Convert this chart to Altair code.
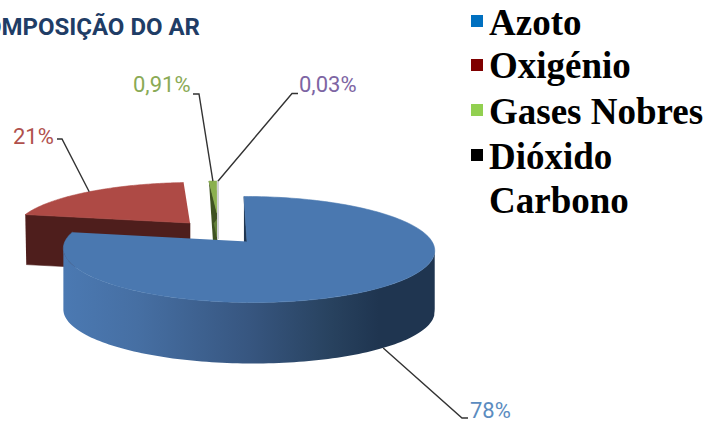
import math
import altair as alt
import pandas as pd

# Air composition, percent of volume
gases = ["Azoto", "Oxigénio", "Gases Nobres", "Dióxido Carbono"]
shares = [78, 21, 0.91, 0.03]
share_labels = ["78%", "21%", "0,91%", "0,03%"]

legend_rows = ["Azoto", "Oxigénio", "Gases Nobres", "Dióxido", "Carbono"]
legend_colors = ["#0070c0", "#7f0000", "#92d050", "#000000"]

top_colors = ["#4a78b0", "#ae4a45", "#8bb04f", "#d0d0d6"]
wall_colors = ["#1f3550", "#4e1e1c", "#3f5222", "#d0d0d6"]
label_colors = ["#5b8cc0", "#b0504c", "#8aaa55", "#7d65a3"]

# Exploded pie layout: apex, scale and shear per slice, in pixels
slices = [
    dict(ax=247.0, ay=241.5, sx=1.0, sy=1.0, shear=0.0, depth=61),
    dict(ax=190.0, ay=223.0, sx=0.95, sy=0.90, shear=6.0, depth=50),
    dict(ax=217.0, ay=213.0, sx=0.87, sy=0.71, shear=3.3, depth=60),
    dict(ax=218.0, ay=239.0, sx=0.90, sy=1.29, shear=3.5, depth=0),
]
# Leader elbow and end of each label line
elbows = [[(462, 418), (468, 418)], [(62, 139), (57, 139)], [(199, 94), (193, 94)], [(292, 93.5), (298, 93.5)]]
label_pos = [(470, 411), (13, 137), (133, 85), (299, 85)]

X = alt.X("x:Q", scale=alt.Scale(domain=[0, 708], range=[0, 708]), axis=None)
Y = alt.Y("y:Q", scale=alt.Scale(domain=[0, 421], range=[0, 421]), axis=None)
Y2 = alt.Y2("y2:Q")


def rim(i, deg):
    """Screen position of the pie edge at a clockwise angle, with perspective foreshortening."""
    s = slices[i]
    u, v = math.sin(math.radians(deg)), math.cos(math.radians(deg))
    w = 1 + 0.151 * v - 0.008 * u
    px = (183.5 * u - 3.5 * v) / w
    py = 51.8 * v / w
    return s["ax"] + s["sx"] * px + s["shear"] * v, s["ay"] - s["sy"] * py


def sweep(i, a, b, n=90):
    return [rim(i, a + (b - a) * k / n) for k in range(n + 1)]


def polygon(points, color, stroke_width=0.6):
    df = pd.DataFrame({"x": [p[0] for p in points], "y": [p[1] for p in points], "n": range(len(points))})
    return alt.Chart(df).mark_line(fill=color, stroke=color, strokeWidth=stroke_width).encode(
        x=X, y=Y, order="n:Q"
    )


# Cumulative angles of every slice
edges = [0.0]
for share in shares:
    edges.append(edges[-1] + share * 3.6)

layers = []

# Oxigénio: radial wall, then the top face
rl = rim(1, edges[1])
d = slices[1]["depth"]
apex = (slices[1]["ax"], slices[1]["ay"])
layers.append(polygon([rl, apex, (apex[0], apex[1] + d), (rl[0] + 1, rl[1] + d)], wall_colors[1]))
layers.append(polygon([apex] + sweep(1, edges[1], edges[2]), top_colors[1]))

# Gases nobres: leaning wall and top face
ra = rim(2, edges[2])
rb = rim(2, edges[3])
d = slices[2]["depth"]
apex = (slices[2]["ax"], slices[2]["ay"])
layers.append(polygon([ra, apex, (apex[0], apex[1] + d), ((ra[0] + apex[0]) / 2, ra[1] + d)], wall_colors[2]))
layers.append(polygon([(apex[0], apex[1] + 6), (apex[0], apex[1] + 24), (apex[0] - 3, apex[1] + 10)], "#63813a"))
layers.append(polygon([apex, ra, rb], top_colors[2]))

# Dióxido de carbono: a sliver just wide enough to see
apex = (slices[3]["ax"], slices[3]["ay"])
layers.append(polygon([apex] + sweep(3, edges[3], edges[4], 4), top_colors[3], 2))

# Azoto: inner wall, shaded outer wall, top face
r0 = rim(0, 0)
apex = (slices[0]["ax"], slices[0]["ay"])
d = slices[0]["depth"]
layers.append(polygon([r0, apex, (apex[0], apex[1] + d), (r0[0], r0[1] + d)], wall_colors[0]))

front = sweep(0, 97, 262, 120)
front = sorted(front, key=lambda p: p[0])
wall = pd.DataFrame({"x": [p[0] for p in front], "y": [p[1] for p in front], "y2": [p[1] + d for p in front]})
shade = alt.LinearGradient(
    gradient="linear", x1=0, x2=1, y1=0, y2=0,
    stops=[
        alt.GradientStop(offset=0, color="#4b79b2"),
        alt.GradientStop(offset=0.2, color="#466fa3"),
        alt.GradientStop(offset=0.5, color="#375680"),
        alt.GradientStop(offset=0.72, color="#28425f"),
        alt.GradientStop(offset=0.85, color="#1f3550"),
        alt.GradientStop(offset=1, color="#1f3550"),
    ],
)
layers.append(alt.Chart(wall).mark_area(color=shade, interpolate="linear").encode(x=X, y=Y, y2=Y2))
layers.append(polygon([apex] + sweep(0, edges[0], edges[1], 180), top_colors[0]))

# Leader lines start at the middle of each slice's rim
mids = [(edges[k] + edges[k + 1]) / 2 for k in range(4)]
starts = [rim(k, mids[k]) for k in range(4)]
starts[0] = (starts[0][0], starts[0][1] + slices[0]["depth"])
for start, elbow in zip(starts, elbows):
    pts = [start] + elbow
    df = pd.DataFrame({"x": [p[0] for p in pts], "y": [p[1] for p in pts], "n": range(3)})
    layers.append(alt.Chart(df).mark_line(color="#333333", strokeWidth=1.4).encode(x=X, y=Y, order="n:Q"))

# Percentage labels
for text, color, pos in zip(share_labels, label_colors, label_pos):
    df = pd.DataFrame({"x": [pos[0]], "y": [pos[1]], "t": [text]})
    layers.append(
        alt.Chart(df)
        .mark_text(font="Roboto", fontSize=22, align="left", baseline="middle", color=color)
        .encode(x=X, y=Y, text="t:N")
    )

# Heading, running off the left edge
heading = pd.DataFrame({"x": [200], "y": [35], "t": ["COMPOSIÇÃO DO AR"]})
layers.append(
    alt.Chart(heading)
    .mark_text(font="Roboto", fontSize=24, fontWeight="bold", align="right", baseline="alphabetic", color="#1f3d66")
    .encode(x=X, y=Y, text="t:N")
)

# Key, set as a bulleted list
row_y = [35, 78, 124, 169, 213]
key_text = pd.DataFrame({"x": [489] * 5, "y": row_y, "t": legend_rows})
layers.append(
    alt.Chart(key_text)
    .mark_text(font="Liberation Serif", fontSize=37, fontWeight="bold", align="left", baseline="alphabetic", color="#000000")
    .encode(x=X, y=Y, text="t:N")
)
bullets = pd.DataFrame({"x": [477] * 4, "y": [21, 65, 110, 155], "gas": gases})
layers.append(
    alt.Chart(bullets)
    .mark_square(size=144, opacity=1)
    .encode(
        x=X,
        y=Y,
        color=alt.Color("gas:N", scale=alt.Scale(domain=gases, range=legend_colors), legend=None),
    )
)

chart = (
    alt.layer(*layers)
    .properties(width=708, height=421, padding=0, autosize="none", background="white")
    .configure_view(stroke=None)
)
chart.save("out.html", embed_options={"renderer": "svg", "actions": False})
